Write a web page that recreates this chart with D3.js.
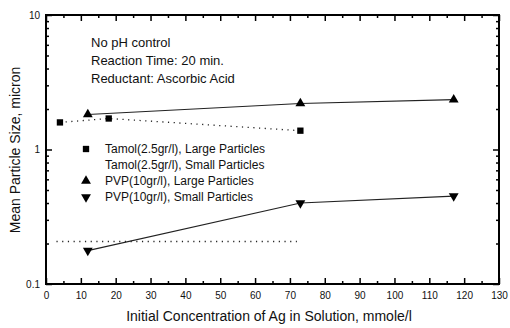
<!DOCTYPE html>
<html><head><meta charset="utf-8">
<script src="https://cdn.jsdelivr.net/npm/d3@7/dist/d3.min.js"></script>
<style>body{margin:0;background:#fff}svg{display:block;font-family:"Liberation Sans",Arial,sans-serif}</style>
</head><body><svg id="c" width="510" height="328"></svg>
<script>
// Data
const tamolLargeX = [4, 18, 73];
const tamolLargeY = [1.59, 1.70, 1.38];
const tamolSmallX = [3, 72];
const tamolSmallY = [0.207, 0.207];
const pvpLargeX = [12, 73, 117];
const pvpLargeY = [1.82, 2.2, 2.35];
const pvpSmallX = [12, 73, 117];
const pvpSmallY = [0.177, 0.40, 0.45];
const xTicks = [0,10,20,30,40,50,60,70,80,90,100,110,120,130];
const yTicks = [0.1, 1, 10];
const yTickLabels = ["0.1", "1", "10"];
const legendLabels = ["Tamol(2.5gr/l), Large Particles","Tamol(2.5gr/l), Small Particles","PVP(10gr/l), Large Particles","PVP(10gr/l), Small Particles"];
const notes = ["No pH control","Reaction Time: 20 min.","Reductant: Ascorbic Acid"];

const svg = d3.select("#c");
const L=46, R=499, T=15, B=284;
const x = d3.scaleLinear().domain([0,130]).range([L,R]);
const y = d3.scaleLog().domain([0.1,10]).range([B,T]);

const xMinor = d3.range(5,130,10);
const yMinor = [];
[0.1,1].forEach(d=>{for(let k=2;k<=9;k++) yMinor.push(+(d*k).toFixed(2));});

function styleAxis(g){
  g.select(".domain").remove();
  g.selectAll("line").attr("stroke","#000").attr("stroke-width",1.5);
  g.selectAll("text").attr("fill","#111").style("font-size","10px");
}
// bottom
svg.append("g").attr("transform",`translate(0,${B})`)
  .call(d3.axisBottom(x).tickValues(xTicks).tickSize(-6).tickPadding(8).tickFormat(d3.format("d"))).call(styleAxis);
svg.append("g").attr("transform",`translate(0,${B})`)
  .call(d3.axisBottom(x).tickValues(xMinor).tickSize(-3).tickFormat("")).call(styleAxis);
// top
svg.append("g").attr("transform",`translate(0,${T})`)
  .call(d3.axisTop(x).tickValues(xTicks).tickSize(-6).tickFormat("")).call(styleAxis);
svg.append("g").attr("transform",`translate(0,${T})`)
  .call(d3.axisTop(x).tickValues(xMinor).tickSize(-3).tickFormat("")).call(styleAxis);
// left
svg.append("g").attr("transform",`translate(${L},0)`)
  .call(d3.axisLeft(y).tickValues(yTicks).tickSize(-6).tickPadding(6).tickFormat((d,i)=>yTickLabels[i])).call(styleAxis);
svg.append("g").attr("transform",`translate(${L},0)`)
  .call(d3.axisLeft(y).tickValues(yMinor).tickSize(-3).tickFormat("")).call(styleAxis);
// right
svg.append("g").attr("transform",`translate(${R},0)`)
  .call(d3.axisRight(y).tickValues(yTicks).tickSize(-6).tickFormat("")).call(styleAxis);
svg.append("g").attr("transform",`translate(${R},0)`)
  .call(d3.axisRight(y).tickValues(yMinor).tickSize(-3).tickFormat("")).call(styleAxis);

// frame
svg.append("rect").attr("x",L).attr("y",T).attr("width",R-L).attr("height",B-T)
  .attr("fill","none").attr("stroke","#000").attr("stroke-width",2);

const line = d3.line().x(d=>x(d[0])).y(d=>y(d[1]));
const zip = (a,b)=>a.map((v,i)=>[v,b[i]]);

// lines
svg.append("path").datum(zip(tamolLargeX,tamolLargeY)).attr("d",line)
  .attr("fill","none").attr("stroke","#222").attr("stroke-width",1.3).attr("stroke-dasharray","1.2,4.5");
svg.append("path").datum(zip(tamolSmallX,tamolSmallY)).attr("d",line)
  .attr("fill","none").attr("stroke","#222").attr("stroke-width",1.3).attr("stroke-dasharray","1.2,4.5");
svg.append("path").datum(zip(pvpLargeX,pvpLargeY)).attr("d",line)
  .attr("fill","none").attr("stroke","#222").attr("stroke-width",1.1);
svg.append("path").datum(zip(pvpSmallX,pvpSmallY)).attr("d",line)
  .attr("fill","none").attr("stroke","#222").attr("stroke-width",1.1);

const sq = d3.symbol().type(d3.symbolSquare).size(40);
const tri = d3.symbol().type(d3.symbolTriangle).size(42);

svg.append("g").selectAll("path").data(zip(tamolLargeX,tamolLargeY)).join("path")
  .attr("d",sq).attr("transform",d=>`translate(${x(d[0])},${y(d[1])})`).attr("fill","#000");
svg.append("g").selectAll("path").data(zip(pvpLargeX,pvpLargeY)).join("path")
  .attr("d",tri).attr("transform",d=>`translate(${x(d[0])},${y(d[1])})`).attr("fill","#000");
svg.append("g").selectAll("path").data(zip(pvpSmallX,pvpSmallY)).join("path")
  .attr("d",tri).attr("transform",d=>`translate(${x(d[0])},${y(d[1])}) rotate(180)`).attr("fill","#000");

// notes
svg.append("g").selectAll("text").data(notes).join("text")
  .attr("x",91).attr("y",(d,i)=>47+i*18).text(d=>d)
  .style("font-size","13px").attr("fill","#111");

// legend
const lg = svg.append("g");
const symType = [sq, null, tri, tri];
legendLabels.forEach((t,i)=>{
  const yy = 149 + i*16;
  if(symType[i]){
    lg.append("path").attr("d",symType[i])
      .attr("transform",`translate(86,${yy})${i===3?" rotate(180)":""}`).attr("fill","#000");
  }
  lg.append("text").attr("x",105).attr("y",yy).attr("dy","0.35em").text(t)
    .style("font-size","12px").attr("fill","#111");
});

// axis titles
svg.append("text").attr("x",269).attr("y",321).attr("text-anchor","middle")
  .text("Initial Concentration of Ag in Solution, mmole/l").style("font-size","14px").attr("fill","#111");
svg.append("text").attr("transform",`translate(20,150) rotate(-90)`).attr("text-anchor","middle")
  .text("Mean Particle Size, micron").style("font-size","14px").attr("fill","#111");
</script></body></html>
